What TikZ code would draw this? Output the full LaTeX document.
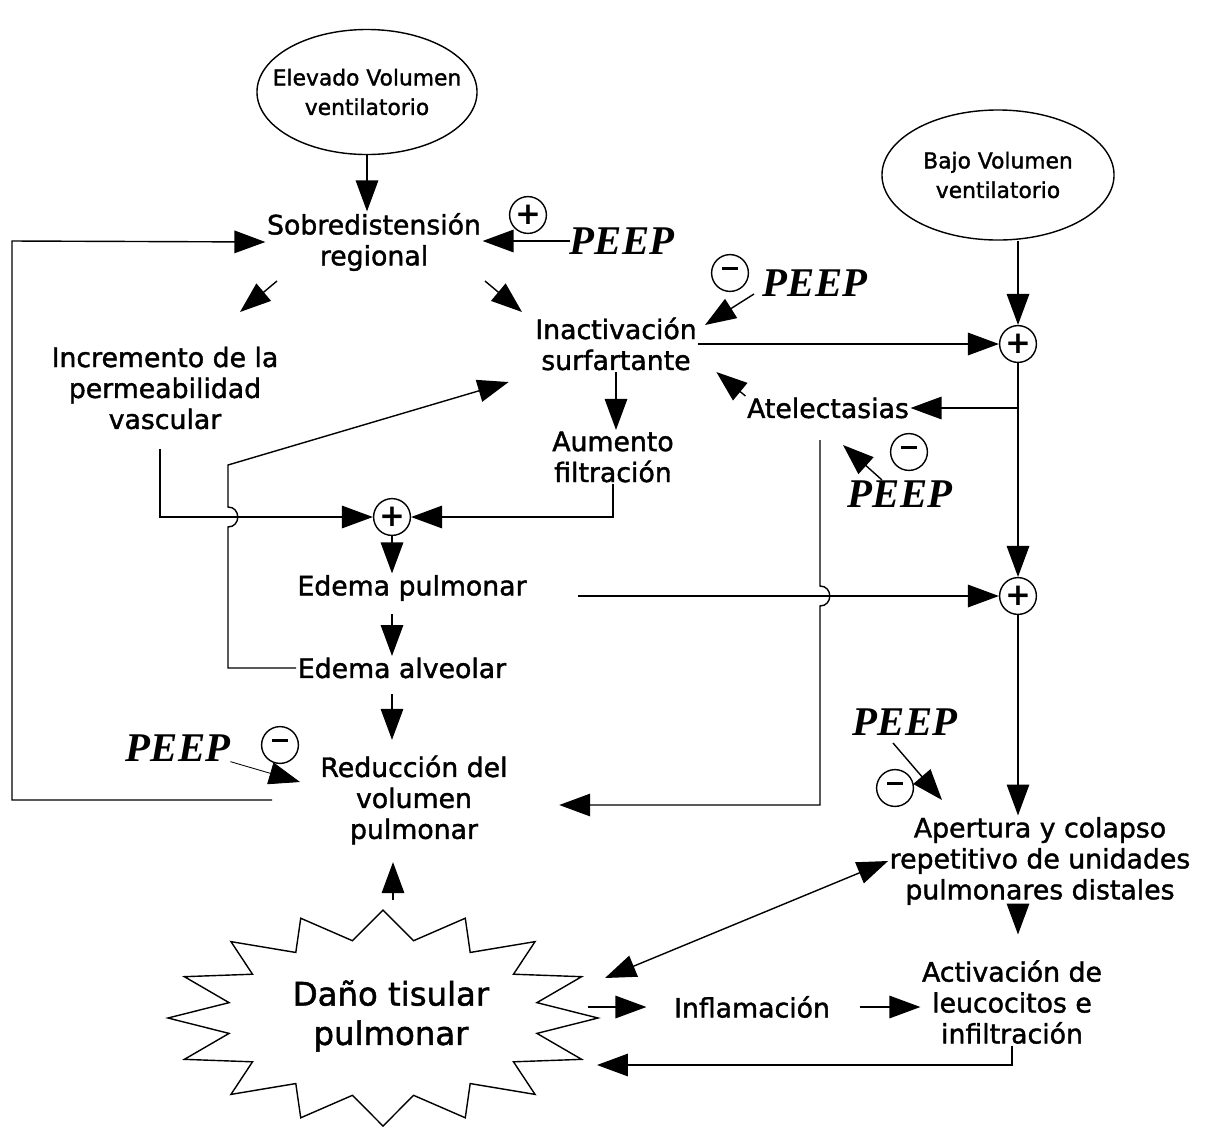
\documentclass[tikz,border=0pt]{standalone}
\usepackage{fontspec}
\setmainfont{DejaVu Sans}
\newfontfamily\boxfont{DejaVu Sans}[FakeBold=1.5]
\newfontfamily\peepfont{Liberation Serif}
\usetikzlibrary{arrows.meta,calc,positioning,shapes.geometric}

\tikzset{
    box/.style={align=center, inner sep=1pt, font=\fontsize{19}{22}\selectfont\boxfont},
    oval/.style={ellipse, draw, line width=1pt, align=center, inner xsep=-1cm,
        inner ysep=0pt, font=\fontsize{15.5}{21}\selectfont\boxfont},
    sign/.style={circle, draw, line width=1pt, minimum size=0.92cm, inner sep=0pt,
        font=\fontsize{22}{22}\selectfont\bfseries},
    peep/.style={inner sep=0pt, font=\fontsize{29}{30}\selectfont\peepfont\bfseries\itshape},
    link/.style={->, line width=1pt},
}
\newcommand{\minussign}{\rule[0.3em]{11pt}{2.6pt}}

\begin{document}
\begin{tikzpicture}[
    x=0.025cm,
    y=-0.025cm,
    >={Triangle[length=22pt,width=16pt]},
    line join=miter
]
\useasboundingbox (0,0) rectangle (1222,1126);

% volumenes
\node[oval, minimum width=5.5cm, minimum height=3.125cm] (elev) at (367,92)
    {Elevado Volumen\\ventilatorio};
\node[oval, minimum width=5.8cm, minimum height=3.25cm] (bajo) at (998,175)
    {Bajo Volumen\\ventilatorio};

% rama izquierda
\node[box] (sobre) at (374,242) {Sobredistensión\\regional};
\node[box] (incr) at (165,388) {Incremento de la\\permeabilidad\\vascular};
\node[box] (inact) at (616,344) {Inactivación\\surfartante};
\node[box] (aum) at (613,457) {Aumento\\filtración};
\node[box] (atel) at (828,408) {Atelectasias};
\node[sign] (sumB) at (392,517) {+};
\node[box] (edpul) at (412,588) {Edema pulmonar};
\node[box] (edalv) at (402,668) {Edema alveolar};
\node[box] (reduc) at (414,800) {Reducción del\\volumen\\pulmonar};

% rama derecha
\node[sign] (sumA) at (1018,344) {+};
\node[sign] (sumC) at (1018,596) {+};
\node[box] (apert) at (1040,861)
    {Apertura y colapso\\repetitivo de unidades\\pulmonares distales};
\node[box] (activ) at (1012,1002) {Activación de\\leucocitos e\\infiltración};
\node[box] (infl) at (752,1007) {Inflamación};

% daño
\draw[line width=1pt]
    (598,1018)
    \foreach \k in {1,...,31} {
        -- ({383+(1-0.27*mod(\k,2))*215*cos(\k*11.25)},
            {1018-(1-0.27*mod(\k,2))*108*sin(\k*11.25)})
    }
    -- cycle;
\node[align=center, font=\fontsize{23}{28}\selectfont\boxfont] (dano) at (391,1016)
    {Daño tisular\\pulmonar};

% PEEP
\node[peep] (peepA) at (622,241) {PEEP};
\node[sign] (sgA) at (528,215) {+};
\node[peep] (peepB) at (815,283) {PEEP};
\node[sign] (sgB) at (730,273) {\minussign};
\node[peep] (peepC) at (900,494) {PEEP};
\node[sign] (sgC) at (909,452) {\minussign};
\node[peep] (peepD) at (178,748) {PEEP};
\node[sign] (sgD) at (280,745) {\minussign};
\node[peep] (peepE) at (905,722) {PEEP};
\node[sign] (sgE) at (895,788) {\minussign};

% puntos libres
\coordinate (sdL1) at (277,281);
\coordinate (sdL2) at (240,312);
\coordinate (sdR1) at (485,281);
\coordinate (sdR2) at (522,312);
\coordinate (pB) at (754,294);
\coordinate (pBt) at (705,325);
\coordinate (pC) at (882,480);
\coordinate (pCt) at (843,445);
\coordinate (pDt) at (300,782);
\coordinate (pE) at (893,743);
\coordinate (pEt) at (942,800);
\coordinate (fb) at (272,800);
\coordinate (drop) at (820,440);
\coordinate (dN) at (393,900);
\coordinate (dNE) at (605,978);
\coordinate (dE) at (588,1007);
\coordinate (dSE) at (597,1065);

% conexiones
\draw[link] (elev.south) -- (elev.south |- sobre.north);
\draw[link] (bajo.south -| sumA) -- (sumA.north);
\draw[link] (peepA.west) -- (sobre.east |- peepA.west);
\draw[link] (sdL1) -- (sdL2);
\draw[link] (sdR1) -- (sdR2);
\draw[link] (pB) -- (pBt);
\draw[link] (inact.east) -- (sumA.west);
\draw[link] (sumA) -- (sumC);
\draw[link] (sumA |- atel) -- (atel.east);
\draw[link] (atel.north west) -- ($(inact.south east)+(18,0)$);
\draw[link] (pC) -- (pCt);
\draw[link] (inact.south) -- (inact.south |- aum.north);
\draw[link] (aum.south) |- (sumB.east);
\draw[link] ($(incr.south)+(-5,18)$) |- (sumB.west);
\draw[link] (edalv.west) -- (228,668) -- (228,527)
    .. controls (241,527) and (241,507) .. (228,507)
    -- (228,465) -- ($(inact.south west)+(-25,10)$);
\draw[link] (sumB) -- (sumB |- edpul.north);
\draw[link, shorten <=8pt] (edpul.south -| sumB) -- (edalv.north -| sumB);
\draw[link, shorten <=10pt, shorten >=10pt] (edalv.south -| sumB) -- (reduc.north -| sumB);
\draw[link] ($(edpul.east |- sumC.west)+(50,0)$) -- (sumC.west);
\draw[link] (drop) -- (820,586)
    .. controls (833,586) and (833,606) .. (820,606)
    -- (820,805) -- ($(reduc.east)+(50,5)$);
\draw[link] (fb) -- (12,800) -- (12,241) -- (sobre.west);
\draw[link, line width=0.6pt] (peepD.south east) -- (pDt);
\draw[link] (pE) -- (pEt);
\draw[link] (sumC.south) -- (sumC.south |- apert.north);
\draw[link, shorten >=0.6cm] (apert.south -| sumC) -- (activ.north -| sumC);
\draw[link, <->] (apert.west) -- (dNE);
\draw[link, shorten >=0.65cm] (dE) -- (infl.west);
\draw[link, shorten <=0.7cm] (infl.east) -- (infl.east -| activ.west);
\draw[link] (activ.south) |- (dSE);
\draw[link, shorten >=0.4cm] (dN) -- (reduc.south -| dN);

\end{tikzpicture}
\end{document}
